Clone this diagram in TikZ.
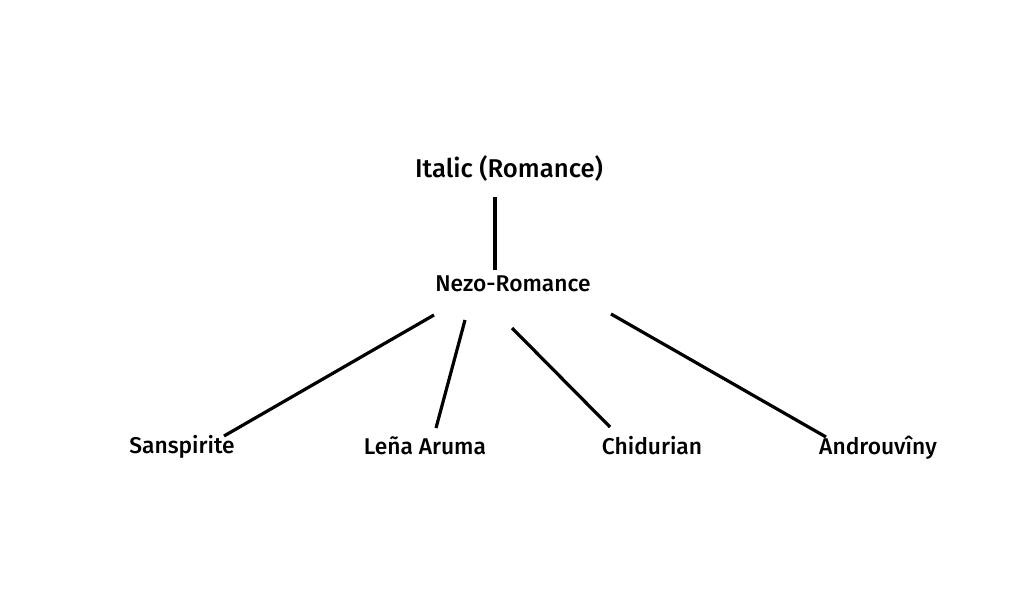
\documentclass[tikz,border=0pt]{standalone}
\usepackage{fontspec}
\setmainfont{Fira Sans Medium}
\begin{document}
\begin{tikzpicture}[x=1pt,y=-1pt,
  lbl/.style={inner sep=0pt, font=\fontsize{22.8}{27}\selectfont, text=black},
  top/.style={lbl, font=\fontsize{25.7}{30}\selectfont},
  conn/.style={line width=3.2pt, draw=black}]
\useasboundingbox (0,0) rectangle (1024,600);
\node[top] (italic) at (509,168) {Italic (Romance)};
\node[lbl] (nezo) at (513,284) {Nezo-Romance};
\node[lbl] (sans) at (182,447) {Sanspirite};
\node[lbl] (lena) at (425,446) {Leña Aruma};
\node[lbl] (chid) at (652,446) {Chidurian};
\node[lbl] (andr) at (878,448) {Androuvîny};
\draw[conn] ([shift={(-14pt,-29pt)}]italic.center) -- ([shift={(-18pt,14pt)}]nezo.center);
\draw[conn] ([shift={(-79pt,-31pt)}]nezo.center) -- ([shift={(42pt,11pt)}]sans.center);
\draw[conn] ([shift={(-48pt,-36pt)}]nezo.center) -- ([shift={(11pt,18pt)}]lena.center);
\draw[conn] ([shift={(-1pt,-44pt)}]nezo.center) -- ([shift={(-42pt,19pt)}]chid.center);
\draw[conn] ([shift={(98pt,-30pt)}]nezo.center) -- ([shift={(-52pt,11pt)}]andr.center);
\end{tikzpicture}
\end{document}
